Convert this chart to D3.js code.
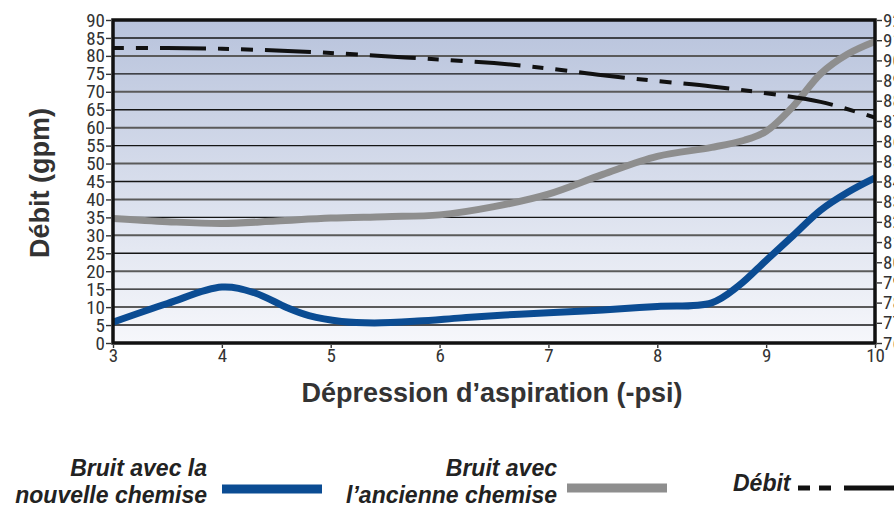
<!DOCTYPE html>
<html>
<head>
<meta charset="utf-8">
<script src="https://cdn.jsdelivr.net/npm/d3@7"></script>
<style>
  html, body { margin: 0; padding: 0; background: #fff; }
  svg { display: block; }
  .narrow { font-family: "Liberation Sans Narrow", "Arial Narrow", "Roboto Condensed", sans-serif; font-stretch: condensed; }
</style>
</head>
<body>
<svg id="chart" width="894" height="510"></svg>
<script>
// Suction depression (-psi)
const pressure = [3, 3.5, 4, 4.3, 4.6, 4.8, 5.1, 5.4, 5.8, 6.2, 6.6, 7, 7.5, 8, 8.5, 8.75, 9, 9.25, 9.5, 9.75, 10];
// Noise with the new liner
const noiseNew = [5.8, 11, 15.6, 14.0, 9.8, 7.6, 6.0, 5.6, 6.1, 7, 7.8, 8.4, 9.2, 10.2, 11.2, 16, 23, 30, 37, 42, 46];

const pressureOld = [3, 3.5, 4, 4.5, 5, 5.5, 6, 6.5, 7, 7.5, 8, 8.5, 8.8, 9, 9.25, 9.5, 9.75, 10];
// Noise with the old liner
const noiseOld = [34.7, 33.8, 33.3, 34, 34.8, 35.2, 35.7, 38, 41.5, 47, 52, 54.5, 56.5, 59, 66, 75, 80.5, 84];

const pressureFlow = [3, 3.5, 4, 4.5, 5, 5.5, 6, 6.5, 7, 7.5, 8, 8.5, 9, 9.5, 10];
// Flow rate
const flow = [82.2, 82.2, 82, 81.5, 80.8, 79.9, 79, 78, 76.5, 74.6, 73, 71.5, 69.6, 67.2, 62.8];

const xTicks = [3, 4, 5, 6, 7, 8, 9, 10];
const yTicks = d3.range(0, 95, 5);
const yRightTicks = d3.range(76, 93, 1);

const legendItems = [
  { lines: ["Bruit avec la", "nouvelle chemise"], key: "new" },
  { lines: ["Bruit avec", "l\u2019ancienne chemise"], key: "old" },
  { lines: ["D\u00e9bit"], key: "flow" }
];

const svg = d3.select("#chart");
const plotLeft = 113, plotRight = 875, plotTop = 20, plotBottom = 343;

const x = d3.scaleLinear().domain([3, 10]).range([plotLeft, plotRight]);
const y = d3.scaleLinear().domain([0, 90]).range([plotBottom, plotTop]);
const yR = d3.scaleLinear().domain([76, 92]).range([plotBottom, plotTop]);

const defs = svg.append("defs");
const grad = defs.append("linearGradient").attr("id", "bg").attr("x1", 0).attr("y1", 0).attr("x2", 0).attr("y2", 1);
grad.append("stop").attr("offset", "0%").attr("stop-color", "#b8c3dc");
grad.append("stop").attr("offset", "100%").attr("stop-color", "#f6f7fb");
defs.append("clipPath").attr("id", "plotClip")
  .append("rect").attr("x", plotLeft).attr("y", plotTop).attr("width", plotRight - plotLeft).attr("height", plotBottom - plotTop);

svg.append("rect").attr("x", plotLeft).attr("y", plotTop).attr("width", plotRight - plotLeft).attr("height", plotBottom - plotTop)
  .attr("fill", "url(#bg)");

// horizontal gridlines
svg.append("g").selectAll("line")
  .data(yTicks.filter(v => v > 0 && v < 90))
  .join("line")
  .attr("x1", plotLeft).attr("x2", plotRight)
  .attr("y1", d => y(d)).attr("y2", d => y(d))
  .attr("stroke", d => d % 10 === 0 ? "#5a5a5a" : "#151515")
  .attr("stroke-width", d => d % 10 === 0 ? 2 : 1.4);

const plot = svg.append("g").attr("clip-path", "url(#plotClip)");
const line = d3.line().curve(d3.curveCatmullRom.alpha(0.5));

plot.append("path")
  .attr("d", line(pressureOld.map((p, i) => [x(p), y(noiseOld[i])])))
  .attr("fill", "none").attr("stroke", "#8e8e8e").attr("stroke-width", 7);

plot.append("path")
  .attr("d", line(pressure.map((p, i) => [x(p), y(noiseNew[i])])))
  .attr("fill", "none").attr("stroke", "#0b4c93").attr("stroke-width", 7);

plot.append("path")
  .attr("d", line(pressureFlow.map((p, i) => [x(p), y(flow[i])])))
  .attr("fill", "none").attr("stroke", "#111").attr("stroke-width", 4)
  .attr("stroke-dasharray", "11,12,12,12,46,12").attr("stroke-dashoffset", 0);

// frame
svg.append("rect").attr("x", plotLeft).attr("y", plotTop).attr("width", plotRight - plotLeft).attr("height", plotBottom - plotTop)
  .attr("fill", "none").attr("stroke", "#111").attr("stroke-width", 3.5);

// axes
const styleAxis = g => {
  g.select(".domain").remove();
  g.selectAll(".tick line").attr("stroke", "#333").attr("stroke-width", 1.4);
  g.selectAll(".tick text").attr("class", "narrow").attr("fill", "#333").attr("font-size", 19);
};

svg.append("g").attr("transform", `translate(${plotLeft - 2},0)`)
  .call(d3.axisLeft(y).tickValues(yTicks).tickSize(5).tickPadding(1))
  .call(styleAxis);

svg.append("g").attr("transform", `translate(${plotRight + 2},0)`)
  .call(d3.axisRight(yR).tickValues(yRightTicks).tickSize(5).tickPadding(1))
  .call(styleAxis);

svg.append("g").attr("transform", `translate(0,${plotBottom + 2})`)
  .call(d3.axisBottom(x).tickValues(xTicks).tickFormat(d3.format("d")).tickSize(3).tickPadding(0))
  .call(styleAxis);

// axis titles
svg.append("text")
  .attr("x", (plotLeft + plotRight) / 2 - 2).attr("y", 402)
  .attr("text-anchor", "middle")
  .attr("font-family", "Liberation Sans, Arial, sans-serif").attr("font-weight", "bold")
  .attr("font-size", 27).attr("fill", "#333")
  .text("D\u00e9pression d\u2019aspiration (-psi)");

svg.append("text")
  .attr("transform", "translate(49,183) rotate(-90)")
  .attr("text-anchor", "middle")
  .attr("font-family", "Liberation Sans, Arial, sans-serif").attr("font-weight", "bold")
  .attr("font-size", 27).attr("fill", "#333")
  .text("D\u00e9bit (gpm)");

// legend
const legendFont = g => g.attr("font-family", "Liberation Sans, Arial, sans-serif")
  .attr("font-weight", "bold").attr("font-style", "italic").attr("font-size", 23).attr("fill", "#222");

const lg = svg.append("g");
const textRight = { new: 207, old: 557 };
legendItems.slice(0, 2).forEach(item => {
  lg.append("text").call(legendFont)
    .attr("x", textRight[item.key]).attr("y", 476).attr("text-anchor", "end").text(item.lines[0]);
  lg.append("text").call(legendFont)
    .attr("x", textRight[item.key]).attr("y", 503).attr("text-anchor", "end").text(item.lines[1]);
});
lg.append("line").attr("x1", 222).attr("x2", 322).attr("y1", 489).attr("y2", 489)
  .attr("stroke", "#0b4c93").attr("stroke-width", 9);
lg.append("line").attr("x1", 567).attr("x2", 667).attr("y1", 488).attr("y2", 488)
  .attr("stroke", "#8e8e8e").attr("stroke-width", 9);
lg.append("text").call(legendFont)
  .attr("x", 733).attr("y", 491).text(legendItems[2].lines[0]);
lg.append("line").attr("x1", 798).attr("x2", 894).attr("y1", 488).attr("y2", 488)
  .attr("stroke", "#111").attr("stroke-width", 5).attr("stroke-dasharray", "12,9,12,13,60");
</script>
</body>
</html>
